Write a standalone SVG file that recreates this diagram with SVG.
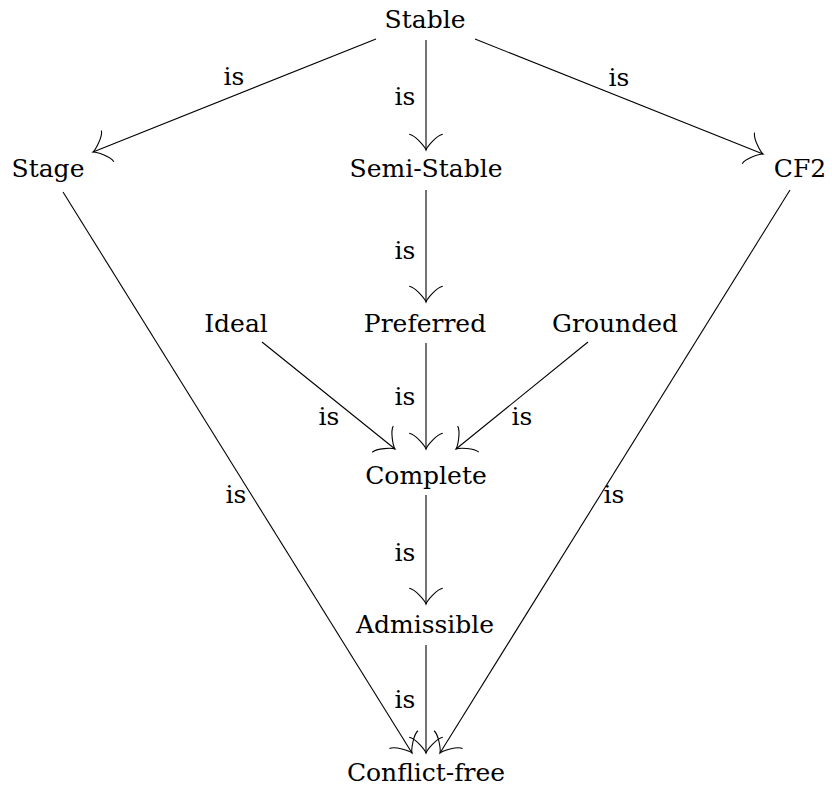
<svg xmlns="http://www.w3.org/2000/svg" width="832" height="790" viewBox="0 0 832 790">
<style>
text{font-family:'DejaVu Serif','Liberation Serif',serif;fill:#000;text-anchor:middle}
.n{font-size:25px}
.l{font-size:25px}
.e{stroke:#000;stroke-width:1.1;fill:none;marker-end:url(#to)}
</style>
<defs>
<marker id="to" markerUnits="userSpaceOnUse" orient="auto" refX="0" refY="0" markerWidth="40" markerHeight="40" overflow="visible">
<path d="M -15.75,16.8 C -14.7,10.5 -3.15,1.05 0,0 C -3.15,-1.05 -14.7,-10.5 -15.75,-16.8" fill="none" stroke="#000" stroke-width="1.1"/>
</marker>
</defs>
<rect width="832" height="790" fill="#fff"/>
<g id="connectors">
<line class="e" x1="376" y1="39" x2="93" y2="152"/>
<line class="e" x1="426" y1="40" x2="426" y2="150"/>
<line class="e" x1="475" y1="39" x2="763" y2="154"/>
<line class="e" x1="426" y1="190" x2="426" y2="302"/>
<line class="e" x1="262" y1="342" x2="395" y2="449"/>
<line class="e" x1="426" y1="343" x2="426" y2="449"/>
<line class="e" x1="588" y1="342" x2="456" y2="449"/>
<line class="e" x1="426" y1="495" x2="426" y2="604"/>
<line class="e" x1="426" y1="645" x2="426" y2="753"/>
<line class="e" x1="63" y1="192" x2="412" y2="753"/>
<line class="e" x1="790" y1="190" x2="440" y2="753"/>
<text class="l" x="234" y="85">is</text>
<text class="l" x="405" y="105">is</text>
<text class="l" x="619" y="86">is</text>
<text class="l" x="405" y="259">is</text>
<text class="l" x="329" y="425">is</text>
<text class="l" x="405" y="405">is</text>
<text class="l" x="522" y="425">is</text>
<text class="l" x="236" y="503">is</text>
<text class="l" x="614" y="503">is</text>
<text class="l" x="405" y="561">is</text>
<text class="l" x="405" y="708">is</text>
</g>
<g id="stable"><text class="n" x="425" y="28">Stable</text></g>
<g id="stage"><text class="n" x="48" y="177">Stage</text></g>
<g id="semistable"><text class="n" x="426" y="177">Semi-Stable</text></g>
<g id="cf2"><text class="n" x="800" y="177">CF2</text></g>
<g id="ideal"><text class="n" x="236" y="332">Ideal</text></g>
<g id="preferred"><text class="n" x="425" y="332">Preferred</text></g>
<g id="grounded"><text class="n" x="615" y="332">Grounded</text></g>
<g id="complete"><text class="n" x="426" y="484">Complete</text></g>
<g id="admissible"><text class="n" x="425" y="633">Admissible</text></g>
<g id="conflictfree"><text class="n" x="426" y="781">Conflict-free</text></g>
</svg>
